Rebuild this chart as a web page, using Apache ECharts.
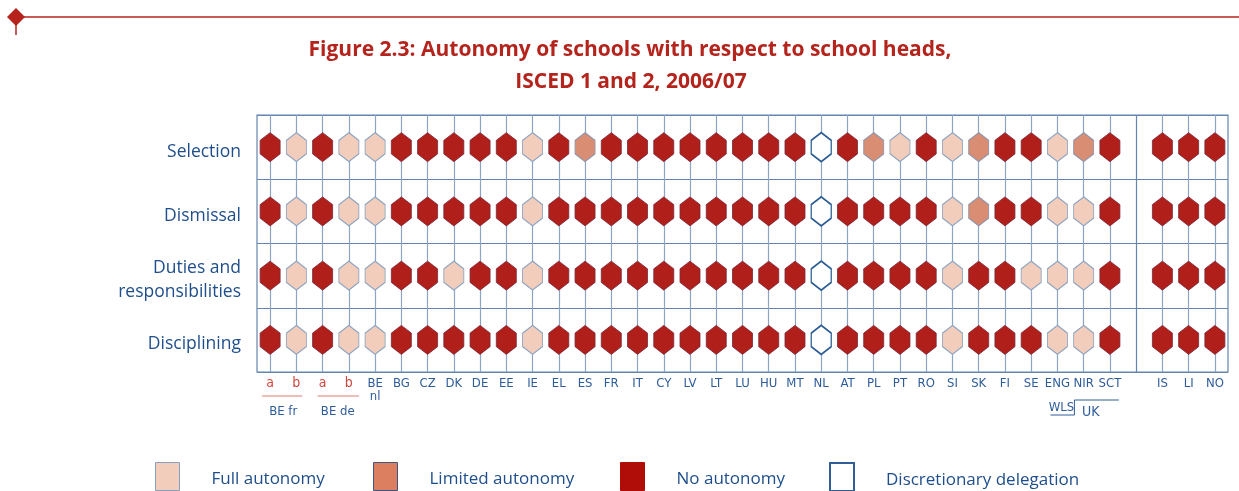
<!DOCTYPE html>
<html>
<head>
<meta charset="utf-8">
<script src="https://cdn.jsdelivr.net/npm/echarts@6/dist/echarts.min.js"></script>
<style>
  html, body { margin: 0; padding: 0; background: #fff; }
  #chart { width: 1239px; height: 491px; }
</style>
</head>
<body>
<div id="chart"></div>
<script>
// columns (one is an empty gap before the EFTA countries)
const countries = ['BE fr a', 'BE fr b', 'BE de a', 'BE de b', 'BE nl', 'BG', 'CZ', 'DK', 'DE', 'EE', 'IE', 'EL', 'ES', 'FR', 'IT', 'CY', 'LV', 'LT', 'LU', 'HU', 'MT', 'NL', 'AT', 'PL', 'PT', 'RO', 'SI', 'SK', 'FI', 'SE', 'UK-ENG', 'UK-NIR', 'UK-SCT', 'gap', 'IS', 'LI', 'NO']
const tickLabels = ['a', 'b', 'a', 'b', 'BE\nnl', 'BG', 'CZ', 'DK', 'DE', 'EE', 'IE', 'EL', 'ES', 'FR', 'IT', 'CY', 'LV', 'LT', 'LU', 'HU', 'MT', 'NL', 'AT', 'PL', 'PT', 'RO', 'SI', 'SK', 'FI', 'SE', 'ENG', 'NIR', 'SCT', '', 'IS', 'LI', 'NO']
const rows = ['Selection', 'Dismissal', 'Duties and\nresponsibilities', 'Disciplining']

// F = full autonomy, L = limited autonomy, N = no autonomy, D = discretionary delegation
const selection = ['N', 'F', 'N', 'F', 'F', 'N', 'N', 'N', 'N', 'N', 'F', 'N', 'L', 'N', 'N', 'N', 'N', 'N', 'N', 'N', 'N', 'D', 'N', 'L', 'F', 'N', 'F', 'L', 'N', 'N', 'F', 'L', 'N', null, 'N', 'N', 'N']
const dismissal = ['N', 'F', 'N', 'F', 'F', 'N', 'N', 'N', 'N', 'N', 'F', 'N', 'N', 'N', 'N', 'N', 'N', 'N', 'N', 'N', 'N', 'D', 'N', 'N', 'N', 'N', 'F', 'L', 'N', 'N', 'F', 'F', 'N', null, 'N', 'N', 'N']
const duties = ['N', 'F', 'N', 'F', 'F', 'N', 'N', 'F', 'N', 'N', 'F', 'N', 'N', 'N', 'N', 'N', 'N', 'N', 'N', 'N', 'N', 'D', 'N', 'N', 'N', 'N', 'F', 'N', 'N', 'F', 'F', 'F', 'N', null, 'N', 'N', 'N']
const disciplining = ['N', 'F', 'N', 'F', 'F', 'N', 'N', 'N', 'N', 'N', 'F', 'N', 'N', 'N', 'N', 'N', 'N', 'N', 'N', 'N', 'N', 'D', 'N', 'N', 'N', 'N', 'F', 'N', 'N', 'N', 'F', 'F', 'N', null, 'N', 'N', 'N']

const statusRows = [selection, dismissal, duties, disciplining]
const blue = '#1f4e8c'
const red = '#b5241c'
const hexagon = 'path://M10,0 L20,8 L20,22 L10,30 L0,22 L0,8 Z'

const statuses = [
  { code: 'F', name: 'Full autonomy', color: '#f2cdbb', border: '#8aa3c2', bw: 1, legendBorder: '#8aa0bf', legendLeft: 155, legendColor: '#f2cdbb' },
  { code: 'L', name: 'Limited autonomy', color: '#d98d72', border: '#8f96ad', bw: 1, legendBorder: '#3d5580', legendLeft: 373, legendColor: '#dc7f60' },
  { code: 'N', name: 'No autonomy', color: '#b01f1a', border: '#7c2a3c', bw: 0.8, legendBorder: '#b00d08', legendLeft: 620, legendColor: '#b00d08' },
  { code: 'D', name: 'Discretionary delegation', color: '#ffffff', border: '#2c5d93', bw: 1.5, legendBorder: '#2f5f96', legendLeft: 829, legendColor: '#ffffff' }
]

function pointsFor (code) {
  const pts = []
  statusRows.forEach((list, r) => {
    list.forEach((v, i) => {
      if (v === code) pts.push([countries[i], rows[r]])
    })
  })
  return pts
}

const chart = echarts.init(document.getElementById('chart'))

const gapIndex = countries.indexOf('gap')
const columnLines = countries.map((c, i) => i).filter(i => i !== gapIndex).map(i => ({ xAxis: i }))

const option = {
  animation: false,
  textStyle: { fontFamily: 'Open Sans' },
  grid: { left: 257, right: 11, top: 115, bottom: 119, show: true, borderColor: '#6585ae', borderWidth: 1.2 },
  xAxis: {
    type: 'category',
    data: countries,
    axisLine: { show: false },
    axisTick: { show: false },
    splitLine: { show: false },
    axisLabel: {
      interval: 0,
      margin: 5,
      color: '#2e5c99',
      fontFamily: 'Liberation Sans Narrow, DejaVu Sans Condensed, Roboto Condensed, sans-serif',
      fontSize: 13,
      lineHeight: 13,
      verticalAlign: 'top',
      formatter: (value, index) => {
        const t = tickLabels[index]
        return (t === 'a' || t === 'b') ? '{r|' + t + '}' : t
      },
      rich: { r: { color: '#d0463e', fontSize: 14, fontFamily: 'Liberation Sans Narrow, DejaVu Sans Condensed, sans-serif' } }
    }
  },
  yAxis: {
    type: 'category',
    data: rows,
    inverse: true,
    axisLine: { show: false },
    axisTick: { show: false },
    splitLine: { show: true, lineStyle: { color: '#6585ae', width: 1.2 } },
    axisLabel: {
      margin: 16,
      color: blue,
      fontSize: 17.5,
      lineHeight: 24,
      align: 'right',
      // push the labels a few pixels below the row centre, as in the original
      formatter: value => value.split('\n').map(line => '{p|' + line + '}').join('\n'),
      rich: {
        p: { color: blue, fontSize: 17.5, lineHeight: 24, padding: [9, 0, 0, 0], align: 'right' }
      }
    }
  },
  legend: statuses.map(s => ({
    left: s.legendLeft - 5,
    top: 457,
    itemWidth: 24,
    itemHeight: 28,
    icon: 'rect',
    selectedMode: false,
    formatter: name => '{t|' + name + '}',
    textStyle: {
      color: blue,
      fontSize: 17,
      fontFamily: 'Open Sans',
      rich: { t: { color: blue, fontSize: 17, fontFamily: 'Open Sans', padding: [6, 0, 0, 27] } }
    },
    data: [{ name: s.name, itemStyle: { color: s.legendColor, borderColor: s.legendBorder, borderWidth: s.code === 'D' ? 2 : 1 } }]
  })),
  series: [
    {
      type: 'scatter',
      data: [],
      z: 1,
      silent: true,
      markLine: {
        silent: true,
        z: 1,
        symbol: ['none', 'none'],
        label: { show: false },
        lineStyle: { color: '#8aa5c6', width: 1.2, type: 'solid' },
        data: columnLines
      }
    },
    {
      type: 'scatter',
      data: [],
      z: 1,
      silent: true,
      markLine: {
        silent: true,
        z: 1,
        symbol: ['none', 'none'],
        label: { show: false },
        lineStyle: { color: '#6585ae', width: 1.2, type: 'solid' },
        data: [{ xAxis: gapIndex }]
      }
    }
  ].concat(statuses.map(s => ({
    name: s.name,
    type: 'scatter',
    z: 10,
    symbol: hexagon,
    symbolSize: [20, 29],
    itemStyle: { color: s.color, borderColor: s.border, borderWidth: s.bw, opacity: 1 },
    data: pointsFor(s.code)
  })))
}

chart.setOption(option)

// decorations and group labels under the axis, placed from the axis scale
const px = c => chart.convertToPixel({ xAxisIndex: 0 }, c)
const xFrA = px('BE fr a'); const xFrB = px('BE fr b')
const xDeA = px('BE de a'); const xDeB = px('BE de b')
const xEng = px('UK-ENG'); const xSct = px('UK-SCT')
const lineStyleRed = { stroke: '#e07b73', lineWidth: 1.2 }
const smallFont = '13px "Liberation Sans Narrow", "DejaVu Sans Condensed", sans-serif'

chart.setOption({
  graphic: [
    // page header rule with diamond
    { type: 'line', shape: { x1: 16, y1: 17, x2: 1239, y2: 17 }, style: { stroke: red, lineWidth: 1.5 } },
    { type: 'line', shape: { x1: 16, y1: 22, x2: 16, y2: 35 }, style: { stroke: red, lineWidth: 1.5 } },
    { type: 'polygon', shape: { points: [[16, 8], [25, 17], [16, 26], [7, 17]] }, style: { fill: red } },
    // title
    { type: 'text', x: 630, y: 50, style: { text: 'Figure 2.3: Autonomy of schools with respect to school heads,', fill: red, font: 'bold 21px "Open Sans"', align: 'center', verticalAlign: 'middle' } },
    { type: 'text', x: 631, y: 82, style: { text: 'ISCED 1 and 2, 2006/07', fill: red, font: 'bold 21px "Open Sans"', align: 'center', verticalAlign: 'middle' } },
    // BE fr / BE de brackets
    { type: 'line', shape: { x1: xFrA - 8, y1: 396, x2: xFrB + 6, y2: 396 }, style: lineStyleRed },
    { type: 'line', shape: { x1: xDeA - 5, y1: 396, x2: xDeB + 10, y2: 396 }, style: lineStyleRed },
    { type: 'text', x: (xFrA + xFrB) / 2, y: 412, style: { text: 'BE fr', fill: '#2e5c99', font: smallFont, align: 'center', verticalAlign: 'middle' } },
    { type: 'text', x: (xDeA + xDeB) / 2 + 2, y: 412, style: { text: 'BE de', fill: '#2e5c99', font: smallFont, align: 'center', verticalAlign: 'middle' } },
    // UK bracket
    { type: 'text', x: xEng + 4, y: 408, style: { text: 'WLS', fill: '#2e5c99', font: smallFont, align: 'center', verticalAlign: 'middle' } },
    { type: 'polyline', shape: { points: [[xEng - 7, 415], [xEng + 17, 415], [xEng + 17, 400], [xSct + 9, 400]] }, style: { stroke: '#2e5c99', lineWidth: 1, fill: null } },
    { type: 'text', x: (xEng + xSct) / 2 + 7, y: 412, style: { text: 'UK', fill: '#2e5c99', font: '14px "Liberation Sans Narrow", "DejaVu Sans Condensed", sans-serif', align: 'center', verticalAlign: 'middle' } }
  ]
})
</script>
</body>
</html>
